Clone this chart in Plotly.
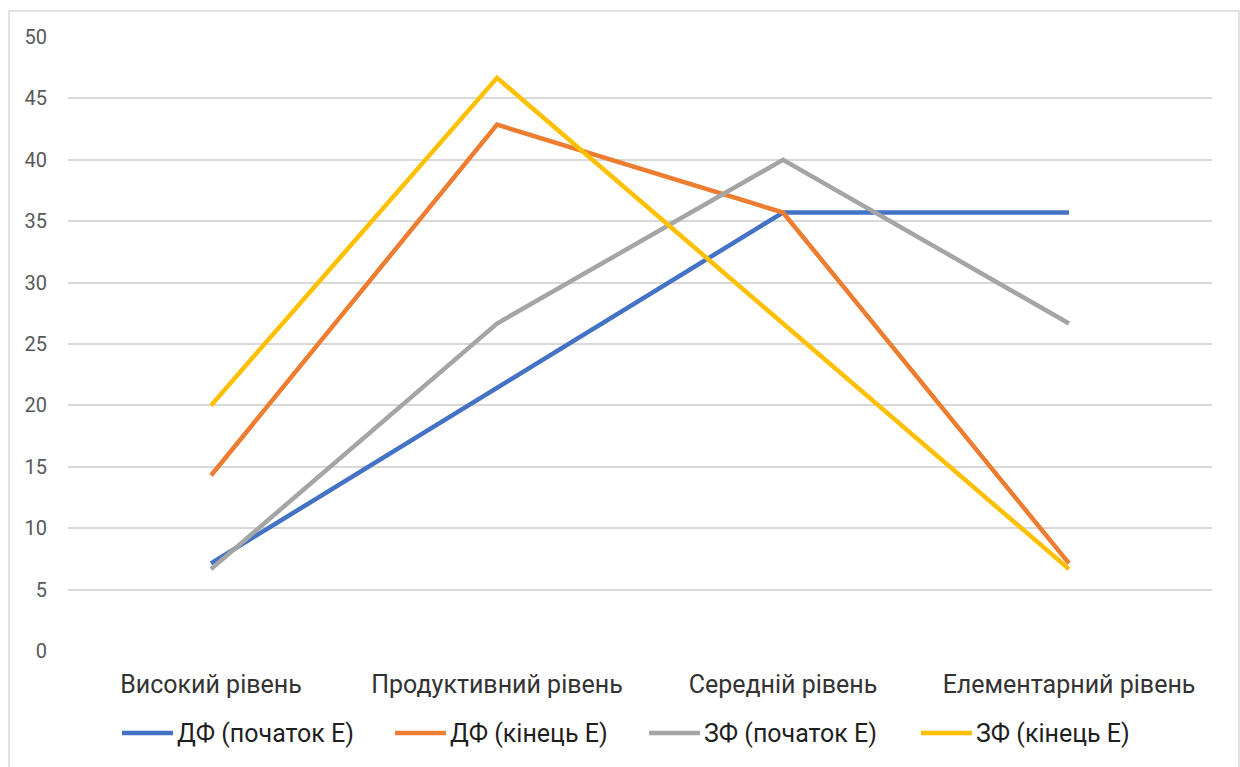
import plotly.graph_objects as go

categories = ["Високий рівень", "Продуктивний рівень", "Середній рівень", "Елементарний рівень"]

df_start = [7.14, 21.43, 35.71, 35.71]
df_end = [14.29, 42.86, 35.71, 7.14]
zf_start = [6.67, 26.67, 40.0, 26.67]
zf_end = [20.0, 46.67, 26.67, 6.67]

series_names = ["ДФ (початок Е)", "ДФ (кінець Е)", "ЗФ (початок Е)", "ЗФ (кінець Е)"]
series_values = [df_start, df_end, zf_start, zf_end]
series_colors = ["#4472C4", "#ED7D31", "#A5A5A5", "#FFC000"]

y_ticks = [0, 5, 10, 15, 20, 25, 30, 35, 40, 45, 50]

W, H = 1240, 767
L, R, T, B = 68, 28, 37, 116
pw, ph = W - L - R, H - T - B


def px_x(x):
    return (x - L) / pw


def px_y(y):
    return (T + ph - y) / ph


fig = go.Figure()
for name, vals, color in zip(series_names, series_values, series_colors):
    fig.add_trace(go.Scatter(
        x=categories, y=vals, name=name, mode="lines",
        line=dict(color=color, width=4.5), showlegend=False,
    ))

# outer chart frame
fig.add_shape(
    type="rect", xref="paper", yref="paper",
    x0=px_x(9), x1=px_x(1239), y0=px_y(H + 5), y1=px_y(11),
    line=dict(color="#D9D9D9", width=1.5), fillcolor="rgba(0,0,0,0)", layer="below",
)

# legend row below the category axis
legend_starts = [122, 395, 649, 921]
legend_y = px_y(733)
for name, color, x0 in zip(series_names, series_colors, legend_starts):
    fig.add_shape(
        type="line", xref="paper", yref="paper",
        x0=px_x(x0), x1=px_x(x0 + 51), y0=legend_y, y1=legend_y,
        line=dict(color=color, width=4.5),
    )
    fig.add_annotation(
        xref="paper", yref="paper", x=px_x(x0 + 53), y=legend_y,
        xanchor="left", yanchor="middle", text=name, showarrow=False,
        font=dict(size=25, color="#1F1F1F"),
    )

fig.update_layout(
    width=W, height=H,
    margin=dict(l=L, r=R, t=T, b=B, autoexpand=False),
    paper_bgcolor="white", plot_bgcolor="white",
    font=dict(family="Roboto, Arial, sans-serif", color="#262626"),
    showlegend=False,
    xaxis=dict(
        range=[-0.5, 3.5], showgrid=False, showline=False, zeroline=False, ticks="",
        tickfont=dict(size=25, color="#333333"), ticklabelstandoff=16, automargin=False,
    ),
    yaxis=dict(
        range=[0, 50], tickvals=y_ticks, showgrid=True, gridcolor="#D9D9D9", gridwidth=1.5,
        zeroline=False, showline=False, ticks="",
        tickfont=dict(size=20, color="#595959"), ticklabelstandoff=20, automargin=False,
    ),
)

fig.write_html("out.html")
